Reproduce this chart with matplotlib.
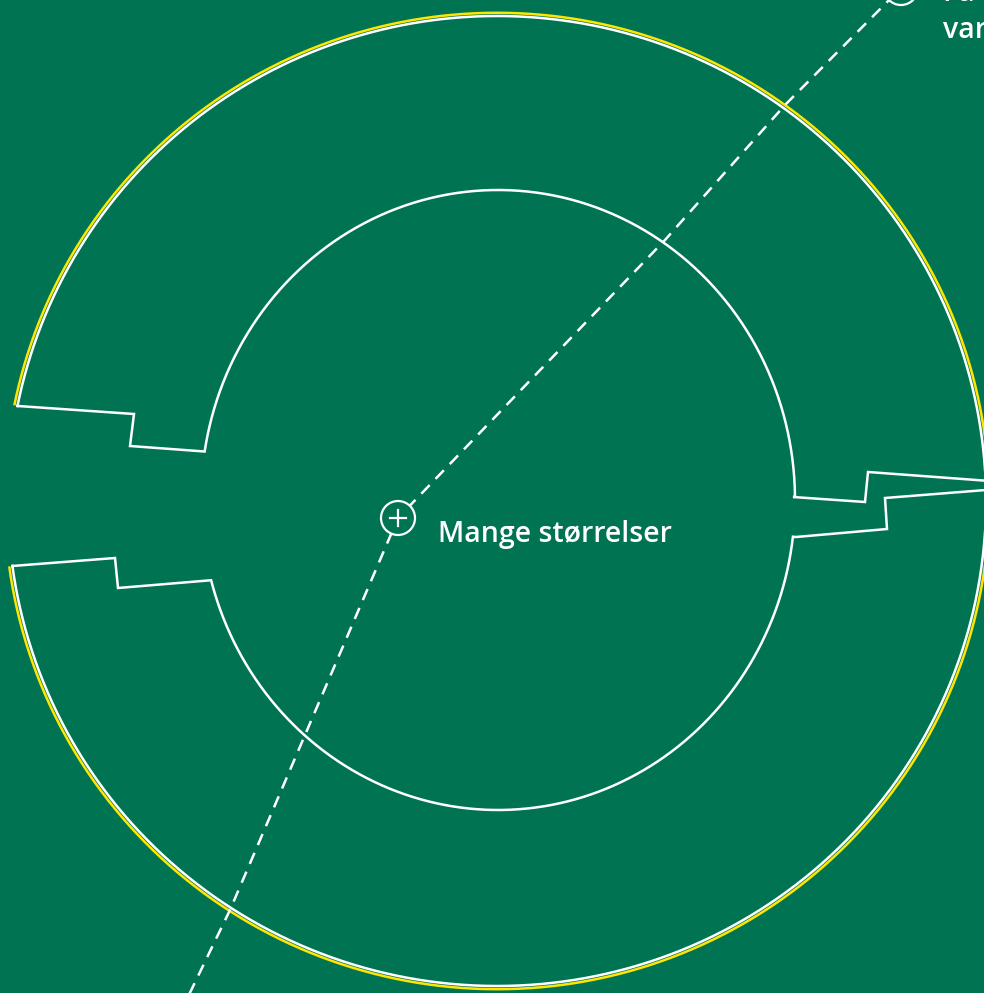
import numpy as np
import matplotlib
matplotlib.use("Agg")
import matplotlib.pyplot as plt
from matplotlib.patches import Circle

# ---- data (diagram geometry in image units) ----
BG = "#007452"
YELLOW = "#FFE600"
WHITE = "#FFFFFF"

outer_center = (497, 501)
outer_radii = (489, 485)
inner_center = (498, 500)
inner_radii = (297, 310)

# top piece: outer arc angles (deg), inner arc angles, stepped edges
top_outer_angles = (-168.7, -2.4)
top_inner_angles = (-0.6, -171.0)
top_right_edge_x = [868, 865, 793]
top_right_edge_y = [472, 502, 497]
top_left_edge_x = [130, 134]
top_left_edge_y = [446, 414]

bottom_outer_angles = (172.3, -1.3)
bottom_inner_angles = (6.8, 165.0)
bottom_right_edge_x = [885, 887, 796]
bottom_right_edge_y = [498, 529, 537]
bottom_left_edge_x = [118, 115]
bottom_left_edge_y = [588, 558]

path_x = [185, 230, 305, 398, 665, 785, 901]
path_y = [1003, 910, 735, 518, 240, 105, -12]

marker_x = [398, 901]
marker_y = [518, -12]

label_main = "Mange størrelser"
label_top_line1 = "Få størrelser"
label_top_line2 = "variasjon"

W, H = 984, 993
FONT = ["Open Sans", "DejaVu Sans"]


def arc(center, radii, a0, a1, n=400, grow=0.0):
    t = np.radians(np.linspace(a0, a1, n))
    x = center[0] + (radii[0] + grow) * np.cos(t)
    y = center[1] + (radii[1] + grow) * np.sin(t)
    return x, y


fig = plt.figure(figsize=(W / 100, H / 100), dpi=100, facecolor=BG)
ax = fig.add_axes([0, 0, 1, 1])
ax.set_facecolor(BG)
ax.set_xlim(0, W)
ax.set_ylim(H, 0)
ax.axis("off")

lw_white = 1.8
lw_yellow = 1.8


def piece(outer_a, inner_a, re_x, re_y, le_x, le_y):
    ox, oy = arc(outer_center, outer_radii, *outer_a)
    ix, iy = arc(inner_center, inner_radii, *inner_a)
    xs = np.concatenate([ox, re_x, ix, le_x, ox[:1]])
    ys = np.concatenate([oy, re_y, iy, le_y, oy[:1]])
    yx, yy = arc(outer_center, outer_radii, *outer_a, grow=3.2)
    ax.plot(yx, yy, color=YELLOW, lw=lw_yellow, solid_capstyle="butt", zorder=2)
    ax.plot(xs, ys, color=WHITE, lw=lw_white, solid_joinstyle="miter", zorder=3)


piece(top_outer_angles, top_inner_angles, top_right_edge_x, top_right_edge_y,
      top_left_edge_x, top_left_edge_y)
piece(bottom_outer_angles, bottom_inner_angles, bottom_right_edge_x, bottom_right_edge_y,
      bottom_left_edge_x, bottom_left_edge_y)

# dashed path
ax.plot(path_x, path_y, color=WHITE, lw=1.8, linestyle=(0, (4.8, 3.4)), zorder=4)

# markers
for mx, my in zip(marker_x, marker_y):
    ax.add_patch(Circle((mx, my), 17, facecolor=BG, edgecolor=WHITE, lw=1.6, zorder=5))
    ax.plot([mx - 8, mx + 8], [my, my], color=WHITE, lw=1.6, zorder=6)
    ax.plot([mx, mx], [my - 8, my + 8], color=WHITE, lw=1.6, zorder=6)

t_main = ax.text(438, 531, label_main, color=WHITE, fontsize=22, family=FONT,
                 weight="semibold", ha="left", va="center_baseline", zorder=6)
# fit the label width to the reference (~234 px)
fig.canvas.draw()
w = t_main.get_window_extent().width
fs = 22 * 234.0 / w
t_main.set_fontsize(fs)

ax.text(943, 0, label_top_line1, color=WHITE, fontsize=fs, family=FONT,
        weight="semibold", ha="left", va="baseline", zorder=6)
ax.text(943, 38, label_top_line2, color=WHITE, fontsize=fs, family=FONT,
        weight="semibold", ha="left", va="baseline", zorder=6)

fig.savefig("out.png", dpi=100, facecolor=BG)
